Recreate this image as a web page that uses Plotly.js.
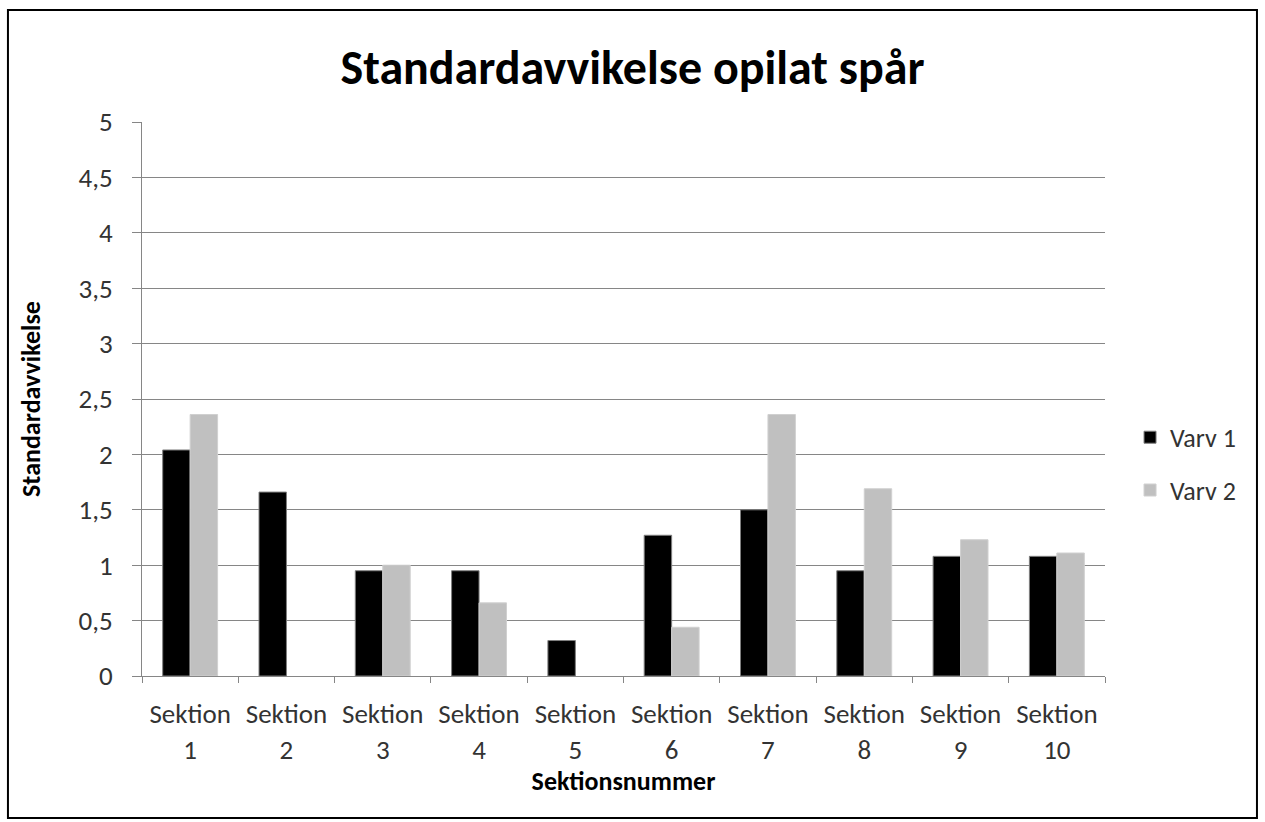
<!DOCTYPE html>
<html><head><meta charset="utf-8">
<script src="https://cdn.plot.ly/plotly-3.0.1.min.js"></script>
<style>html,body{margin:0;padding:0;background:#fff}#c{width:1265px;height:822px}</style>
</head><body><div id="c"></div>
<script>
var categories = ["Sektion<br>1","Sektion<br>2","Sektion<br>3","Sektion<br>4","Sektion<br>5","Sektion<br>6","Sektion<br>7","Sektion<br>8","Sektion<br>9","Sektion<br>10"];
var varv1 = [2.04, 1.66, 0.95, 0.95, 0.32, 1.27, 1.50, 0.95, 1.08, 1.08];
var varv2 = [2.36, null, 1.00, 0.66, null, 0.44, 2.36, 1.69, 1.23, 1.11];
var yTicks = [0, 0.5, 1, 1.5, 2, 2.5, 3, 3.5, 4, 4.5, 5];

var FONT = "Carlito, Lato, 'Liberation Sans', sans-serif";
var traces = [
  {type:"bar", name:"Varv 1", x:categories, y:varv1, legendgroup:"a",
   marker:{color:"#000000", line:{color:"#7f7f7f", width:1}}},
  {type:"bar", name:"Varv 2", x:categories, y:varv2, legendgroup:"b",
   marker:{color:"#c0c0c0", line:{color:"#d0d0d0", width:1}}}
];
var layout = {
  width:1265, height:822,
  paper_bgcolor:"#fff", plot_bgcolor:"#fff",
  margin:{l:142, r:160, t:122, b:146},
  separators:", ",
  font:{family:FONT, color:"#333"},
  title:{text:"<b>Standardavvikelse opilat spår</b>", font:{family:FONT, size:48, color:"#000"}, x:0.5, xanchor:"center", y:0.918, yanchor:"middle"},
  bargap:0.43, bargroupgap:0,
  xaxis:{type:"category", showline:true, linecolor:"#868686", linewidth:1,
    ticks:"outside", ticklen:6, tickcolor:"#868686", tickson:"boundaries", ticklabelstandoff:14,
    tickfont:{size:27, color:"#333"}, showgrid:false,
    title:{text:"<b>Sektionsnummer</b>", font:{size:26, color:"#000"}, standoff:6}},
  yaxis:{range:[0,5], tickvals:yTicks, showline:true, linecolor:"#868686", linewidth:1,
    ticks:"outside", ticklen:9, tickcolor:"#868686", ticklabelstandoff:14,
    gridcolor:"#868686", gridwidth:1, zeroline:false,
    tickfont:{size:27, color:"#333"},
    title:{text:"<b>Standardavvikelse</b>", font:{size:26, color:"#000"}, standoff:30}},
  legend:{x:1.026, xanchor:"left", y:0.383, yanchor:"middle", font:{size:26, color:"#333"},
    traceorder:"grouped", tracegroupgap:16, itemwidth:30},
  shapes:[{type:"rect", xref:"paper", yref:"paper", x0:-0.1392, x1:1.1578, y0:-0.2563, y1:1.2022,
    line:{color:"#000", width:2}, fillcolor:"rgba(0,0,0,0)", layer:"above"}]
};
Plotly.newPlot("c", traces, layout, {displayModeBar:false, staticPlot:true});
</script></body></html>
